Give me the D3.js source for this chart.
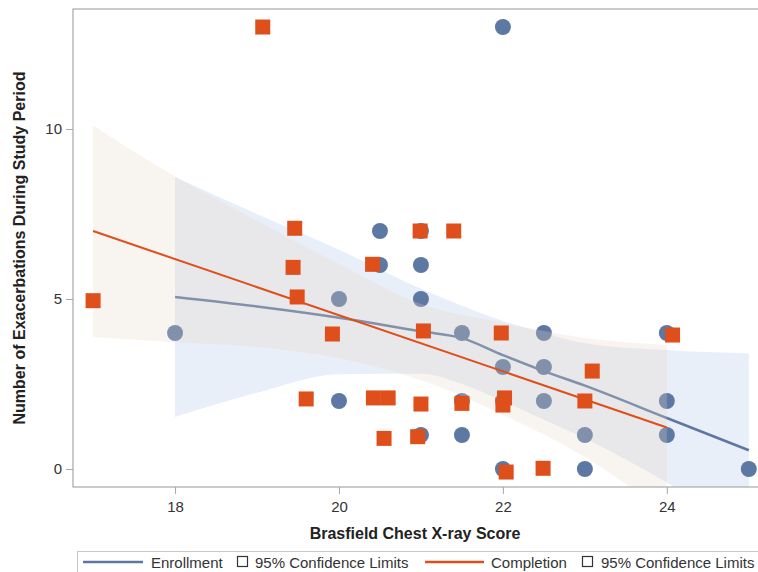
<!DOCTYPE html>
<html>
<head>
<meta charset="utf-8">
<script src="https://cdn.jsdelivr.net/npm/d3@7"></script>
<style>
  body { margin: 0; background: #fff; overflow: hidden; }
  text { font-family: "Liberation Sans", Arial, sans-serif; }
</style>
</head>
<body>
<svg id="chart" width="758" height="572"></svg>
<script>
// Enrollment observations (circles)
const enrollX = [22, 20.5, 21, 20.5, 21, 20, 21, 18, 21.5, 22.5, 24, 22, 22.5, 20, 21.5, 22, 22.5, 24, 21, 21.5, 23, 24, 22, 23, 25];
const enrollY = [13, 7, 7, 6, 6, 5, 5, 4, 4, 4, 4, 3, 3, 2, 2, 2, 2, 2, 1, 1, 1, 1, 0, 0, 0];

// Completion observations (squares, slightly jittered in the source)
const complX = [17.0, 19.07, 19.46, 19.44, 19.49, 19.92, 19.6, 20.41, 20.42, 20.6, 20.55, 20.96, 21.0, 20.99, 21.4, 21.03, 21.5, 21.98, 22.02, 22.0, 22.04, 22.49, 23.09, 23.0, 24.07];
const complY = [4.95, 13.0, 7.08, 5.93, 5.06, 3.97, 2.06, 6.02, 2.09, 2.09, 0.9, 0.95, 1.91, 7.0, 7.0, 4.06, 1.93, 4.0, 2.09, 1.88, -0.09, 0.02, 2.88, 2.0, 3.94];

// fitted curves
const enrollFitX = [18, 19, 20, 21, 21.5, 22, 22.5, 23, 24, 25];
const enrollFitY = [5.06, 4.78, 4.45, 4.05, 3.85, 3.35, 2.88, 2.45, 1.5, 0.55];
const complFitX = [17, 24];
const complFitY = [7.0, 1.22];

// 95% confidence limits
const enrollBandX = [18, 19, 20, 21, 21.5, 22, 22.5, 23, 24, 25];
const enrollUpper = [8.59, 7.5, 6.45, 5.3, 4.8, 4.35, 4.0, 3.7, 3.5, 3.4];
const enrollLower = [1.53, 2.24, 2.79, 2.8, 2.5, 2.0, 1.45, 0.9, -0.4, -2.0];
const complBandX = [17, 18, 19, 20, 21, 22, 23, 24];
const complUpper = [10.1, 8.6, 7.3, 6.03, 4.85, 4.3, 3.85, 3.65];
const complLower = [3.88, 3.73, 3.59, 3.26, 2.62, 1.6, 0.35, -1.3];

const xTicks = [18, 20, 22, 24];
const yTicks = [0, 5, 10];

const blue = '#5d78a2';
const orange = '#de4f1b';

const svg = d3.select('#chart');
const plot = { left: 73, top: 9, right: 757, bottom: 487 };

const x = d3.scaleLinear().domain([16.755, 25.1]).range([plot.left, plot.right]);
const y = d3.scaleLinear().domain([-0.53, 13.53]).range([plot.bottom, plot.top]);

svg.append('clipPath').attr('id', 'clip')
  .append('rect')
  .attr('x', plot.left).attr('y', plot.top)
  .attr('width', 800).attr('height', plot.bottom - plot.top);

const g = svg.append('g').attr('clip-path', 'url(#clip)');

function bandArea(xs, lo, hi) {
  return d3.area()
    .x((d, i) => x(xs[i]))
    .y0((d, i) => y(lo[i]))
    .y1((d, i) => y(hi[i]))
    .curve(d3.curveMonotoneX)(xs);
}
function fitLine(xs, ys) {
  return d3.line()
    .x((d, i) => x(xs[i]))
    .y((d, i) => y(ys[i]))
    .curve(d3.curveMonotoneX)(xs);
}

// Enrollment: band, markers, fit
g.append('path')
  .attr('d', bandArea(enrollBandX, enrollLower, enrollUpper))
  .attr('fill', '#e9eff8');

g.selectAll('circle.enr')
  .data(enrollX)
  .join('circle')
  .attr('class', 'enr')
  .attr('cx', d => x(d))
  .attr('cy', (d, i) => y(enrollY[i]))
  .attr('r', 8)
  .attr('fill', blue);

g.append('path')
  .attr('d', fitLine(enrollFitX, enrollFitY))
  .attr('fill', 'none')
  .attr('stroke', '#5f77a0')
  .attr('stroke-width', 2.5);

// Completion: band (translucent, drawn over enrollment), markers, fit
g.append('path')
  .attr('d', bandArea(complBandX, complLower, complUpper))
  .attr('fill', 'rgb(229,214,200)')
  .attr('fill-opacity', 0.27);

g.selectAll('rect.cmp')
  .data(complX)
  .join('rect')
  .attr('class', 'cmp')
  .attr('x', d => x(d) - 7.5)
  .attr('y', (d, i) => y(complY[i]) - 7.5)
  .attr('width', 15)
  .attr('height', 15)
  .attr('fill', orange);

g.append('path')
  .attr('d', fitLine(complFitX, complFitY))
  .attr('fill', 'none')
  .attr('stroke', orange)
  .attr('stroke-width', 2);

// frame (right edge falls just outside the picture)
svg.append('rect')
  .attr('x', plot.left).attr('y', plot.top)
  .attr('width', 700).attr('height', plot.bottom - plot.top)
  .attr('fill', 'none')
  .attr('stroke', '#a8a8a8')
  .attr('stroke-width', 1.2);

// axes
const xAxis = svg.append('g')
  .attr('transform', `translate(0,${plot.bottom})`)
  .call(d3.axisBottom(x).tickValues(xTicks).tickSize(7).tickPadding(7));
const yAxis = svg.append('g')
  .attr('transform', `translate(${plot.left},0)`)
  .call(d3.axisLeft(y).tickValues(yTicks).tickSize(7).tickPadding(4));

[xAxis, yAxis].forEach(a => {
  a.select('.domain').remove();
  a.selectAll('.tick line').attr('stroke', '#a8a8a8');
  a.selectAll('.tick text')
    .attr('fill', '#333')
    .style('font-size', '15px')
    .style('font-family', '"Liberation Sans", Arial, sans-serif');
});

// axis titles
svg.append('text')
  .attr('x', (plot.left + plot.right) / 2)
  .attr('y', 539)
  .attr('text-anchor', 'middle')
  .attr('font-size', 16)
  .attr('font-weight', 'bold')
  .attr('fill', '#222')
  .text('Brasfield Chest X-ray Score');

svg.append('text')
  .attr('transform', `translate(25,${(plot.top + plot.bottom) / 2}) rotate(-90)`)
  .attr('text-anchor', 'middle')
  .attr('font-size', 16)
  .attr('font-weight', 'bold')
  .attr('fill', '#222')
  .text('Number of Exacerbations During Study Period');

// legend
const legend = svg.append('g');
legend.append('rect')
  .attr('x', 77.5).attr('y', 551.5)
  .attr('width', 700).attr('height', 40)
  .attr('fill', 'none')
  .attr('stroke', '#c8c8c8');

const legendItems = [
  { type: 'line', color: '#5f77a0', x0: 83, x1: 143 },
  { type: 'text', label: 'Enrollment', x0: 151 },
  { type: 'box', x0: 237 },
  { type: 'text', label: '95% Confidence Limits', x0: 255 },
  { type: 'line', color: orange, x0: 425, x1: 484 },
  { type: 'text', label: 'Completion', x0: 491 },
  { type: 'box', x0: 582 },
  { type: 'text', label: '95% Confidence Limits', x0: 601 }
];
const ly = 562;
legendItems.forEach(it => {
  if (it.type === 'line') {
    legend.append('line')
      .attr('x1', it.x0).attr('x2', it.x1)
      .attr('y1', ly).attr('y2', ly)
      .attr('stroke', it.color).attr('stroke-width', 2.5);
  } else if (it.type === 'box') {
    legend.append('rect')
      .attr('x', it.x0 + 0.5).attr('y', ly - 5.5)
      .attr('width', 10).attr('height', 10)
      .attr('fill', 'none').attr('stroke', '#333').attr('stroke-width', 1.2);
  } else {
    legend.append('text')
      .attr('x', it.x0).attr('y', ly + 5.5)
      .attr('font-size', 15)
      .attr('fill', '#333')
      .text(it.label);
  }
});
</script>
</body>
</html>
